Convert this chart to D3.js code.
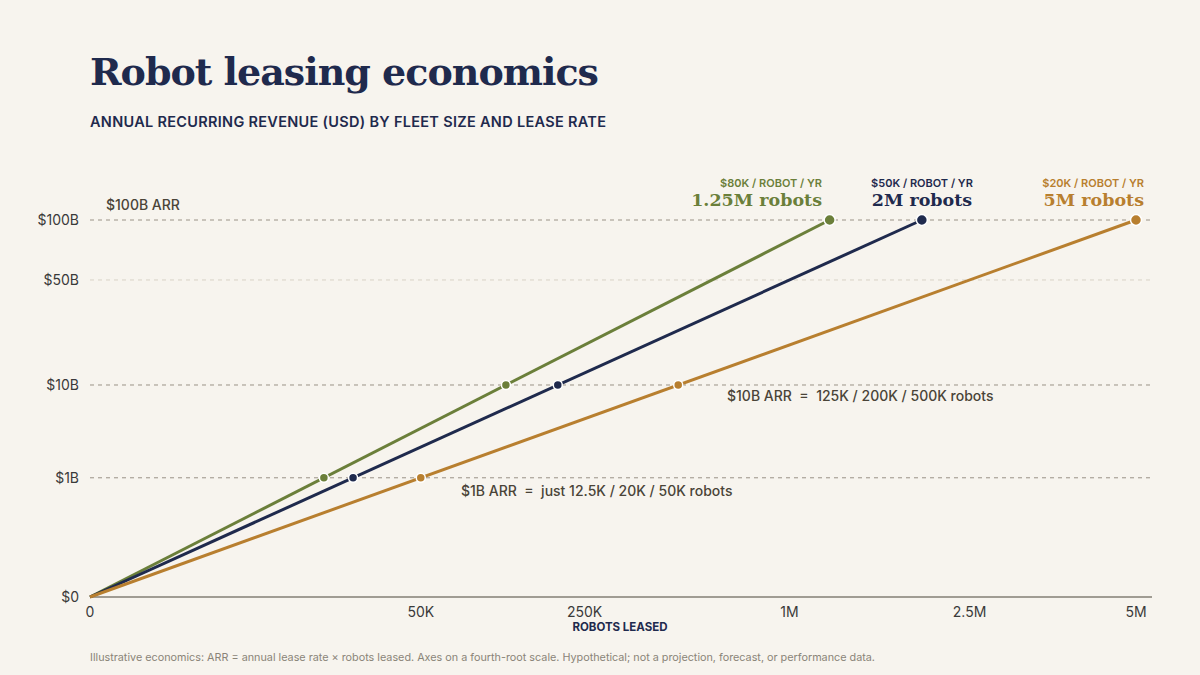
<!DOCTYPE html>
<html><head><meta charset="utf-8">
<script src="https://cdn.jsdelivr.net/npm/d3@7"></script>
<style>
body{margin:0;background:#f7f4ee;}
svg{font-family:Inter,"Noto Sans",sans-serif;}
</style></head>
<body><svg id="c" width="1200" height="675"></svg>
<script>
const rates = [80000, 50000, 20000];
const rateLabels = ["$80K / ROBOT / YR", "$50K / ROBOT / YR", "$20K / ROBOT / YR"];
const fleetLabels = ["1.25M robots", "2M robots", "5M robots"];
const colors = ["#6b7f3a", "#1f2a4d", "#b87f2f"];
const endFleet = [1250000, 2000000, 5000000];
const milestoneFleet1B = [12500, 20000, 50000];
const milestoneFleet10B = [125000, 200000, 500000];
const xTicks = [0, 50000, 250000, 1000000, 2500000, 5000000];
const xTickLabels = ["0", "50K", "250K", "1M", "2.5M", "5M"];
const yTicks = [0, 1e9, 1e10, 5e10, 1e11];
const yTickLabels = ["$0", "$1B", "$10B", "$50B", "$100B"];

const svg = d3.select("#c");
const root4 = d3.scalePow().exponent(0.25);
const x = root4.copy().domain([0, 5e6]).range([90, 1136]);
const y = root4.copy().domain([0, 1e11]).range([597, 220]);

svg.append("text").attr("x", 90).attr("y", 85)
  .style("font-family", "'DejaVu Serif',serif").style("font-weight", 700)
  .style("font-size", "38px").attr("fill", "#1f2a4d").attr("letter-spacing", "-1")
  .text("Robot leasing economics");
svg.append("text").attr("x", 90).attr("y", 127)
  .style("font-size", "14.5px").style("font-weight", 600).attr("fill", "#1f2a4d")
  .attr("letter-spacing", "0.3").text("ANNUAL RECURRING REVENUE (USD) BY FLEET SIZE AND LEASE RATE");

// gridlines
yTicks.slice(1).forEach(t => {
  svg.append("line").attr("x1", 90).attr("x2", 1150).attr("y1", y(t)).attr("y2", y(t))
    .attr("stroke", t === 5e10 ? "#d8d2c6" : "#9a9286").attr("stroke-dasharray", "4,4");
});
svg.append("line").attr("x1", 90).attr("x2", 1152).attr("y1", 597).attr("y2", 597)
  .attr("stroke", "#4a4438").attr("stroke-width", 1.2);

yTicks.forEach((t, i) => svg.append("text").attr("x", 79).attr("y", y(t) + 5)
  .attr("text-anchor", "end").style("font-size", "14px").attr("fill", "#3a3a3a").text(yTickLabels[i]));
xTicks.forEach((t, i) => svg.append("text").attr("x", x(t)).attr("y", 617)
  .attr("text-anchor", "middle").style("font-size", "14px").attr("fill", "#3a3a3a").text(xTickLabels[i]));
svg.append("text").attr("x", 620).attr("y", 631).attr("text-anchor", "middle")
  .style("font-size", "11.5px").style("font-weight", 700).attr("fill", "#1f2a4d").text("ROBOTS LEASED");

// lines
rates.forEach((r, i) => {
  const pts = [0, endFleet[i]].map(f => [x(f), y(f * r)]);
  svg.append("path").attr("d", d3.line()(pts)).attr("stroke", colors[i])
    .attr("stroke-width", 3).attr("fill", "none");
});
rates.forEach((r, i) => {
  [milestoneFleet1B[i], milestoneFleet10B[i]].forEach(f =>
    svg.append("circle").attr("cx", x(f)).attr("cy", y(f * r)).attr("r", 4.5)
      .attr("fill", colors[i]).attr("stroke", "#fff").attr("stroke-width", 1.5));
  svg.append("circle").attr("cx", x(endFleet[i])).attr("cy", y(endFleet[i] * r)).attr("r", 5.5)
    .attr("fill", colors[i]).attr("stroke", "#fff").attr("stroke-width", 1.5);
});

// end labels
const labelX = [822, 922, 1144], labelAnchor = ["end", "middle", "end"];
rates.forEach((r, i) => {
  svg.append("text").attr("x", labelX[i]).attr("y", 187).attr("text-anchor", labelAnchor[i])
    .style("font-size", "11px").style("font-weight", 600).attr("fill", colors[i]).text(rateLabels[i]);
  svg.append("text").attr("x", labelX[i]).attr("y", 206).attr("text-anchor", labelAnchor[i])
    .style("font-family", "'DejaVu Serif',serif").style("font-weight", 700)
    .style("font-size", "17.5px").attr("fill", colors[i]).text(fleetLabels[i]);
});

const ann = (tx, ty, s) => svg.append("text").attr("x", tx).attr("y", ty)
  .style("font-size", "14px").style("font-weight", 500).attr("fill", "#4a4438")
  .attr("xml:space", "preserve").text(s);
ann(106, 210, "$100B ARR");
ann(727, 401, "$10B ARR  =  125K / 200K / 500K robots");
ann(461, 496, "$1B ARR  =  just 12.5K / 20K / 50K robots");

svg.append("text").attr("x", 90).attr("y", 661).style("font-size", "10.8px").attr("fill", "#8a8478")
  .text("Illustrative economics: ARR = annual lease rate × robots leased. Axes on a fourth-root scale. Hypothetical; not a projection, forecast, or performance data.");
</script></body></html>
